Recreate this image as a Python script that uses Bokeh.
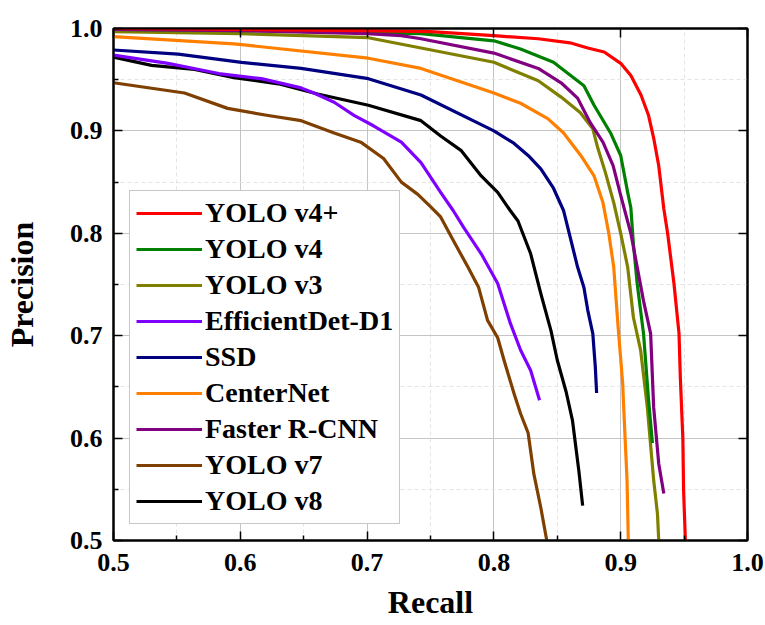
from bokeh.plotting import figure
from bokeh.models import (Legend, LegendItem, LinearAxis, FixedTicker,
                          PrintfTickFormatter, Range1d)
from bokeh.embed import file_html
from bokeh.resources import INLINE

# ---- data ----
names = ["YOLO v4+", "YOLO v4", "YOLO v3", "EfficientDet-D1", "SSD",
         "CenterNet", "Faster R-CNN", "YOLO v7", "YOLO v8"]
colors = ["#ff0000", "#008000", "#808000", "#8000ff", "#000080",
          "#ff8000", "#800080", "#7f3f00", "#000000"]

yolov4p_x = [0.5, 0.6, 0.7, 0.75, 0.8, 0.835, 0.86, 0.874, 0.887, 0.9, 0.908, 0.916,
             0.922, 0.926, 0.93, 0.934, 0.937, 0.942, 0.946, 0.947, 0.949, 0.9496, 0.951]
yolov4p_y = [1.0, 0.999, 0.998, 0.997, 0.993, 0.990, 0.986, 0.981, 0.977, 0.966, 0.954, 0.935,
             0.915, 0.893, 0.866, 0.824, 0.800, 0.751, 0.702, 0.66, 0.60, 0.549, 0.50]

yolov4_x = [0.5, 0.6, 0.7, 0.7425, 0.8, 0.821, 0.847, 0.871, 0.879, 0.892, 0.900, 0.9055,
            0.908, 0.910, 0.913, 0.918, 0.922, 0.925]
yolov4_y = [0.999, 0.998, 0.996, 0.995, 0.988, 0.980, 0.967, 0.944, 0.925, 0.898, 0.876, 0.840,
            0.825, 0.790, 0.751, 0.702, 0.637, 0.595]

yolov3_x = [0.5, 0.6, 0.701, 0.7425, 0.8, 0.835, 0.853, 0.868, 0.878, 0.882, 0.888, 0.8945,
            0.9, 0.9055, 0.91, 0.9157, 0.921, 0.926, 0.929, 0.930]
yolov3_y = [0.997, 0.995, 0.991, 0.981, 0.967, 0.949, 0.933, 0.918, 0.902, 0.883, 0.859, 0.830,
            0.800, 0.767, 0.718, 0.686, 0.630, 0.559, 0.526, 0.50]

effdet_x = [0.5, 0.543, 0.583, 0.6165, 0.648, 0.658, 0.674, 0.690, 0.705, 0.727, 0.7425,
            0.758, 0.768, 0.776, 0.790, 0.803, 0.813, 0.821, 0.829, 0.836]
effdet_y = [0.974, 0.966, 0.956, 0.951, 0.942, 0.937, 0.928, 0.915, 0.905, 0.889, 0.869,
            0.840, 0.822, 0.806, 0.780, 0.751, 0.712, 0.686, 0.666, 0.637]

ssd_x = [0.5, 0.551, 0.601, 0.648, 0.701, 0.7425, 0.8, 0.8157, 0.827, 0.837, 0.847, 0.855,
         0.866, 0.871, 0.874, 0.878, 0.880, 0.881]
ssd_y = [0.979, 0.975, 0.967, 0.961, 0.951, 0.935, 0.900, 0.888, 0.876, 0.863, 0.844, 0.822,
         0.767, 0.747, 0.725, 0.702, 0.669, 0.644]

centernet_x = [0.5, 0.595, 0.701, 0.7425, 0.8, 0.821, 0.8425, 0.855, 0.8685, 0.879, 0.886,
               0.8906, 0.8945, 0.898, 0.9016, 0.902, 0.905, 0.906]
centernet_y = [0.992, 0.985, 0.971, 0.961, 0.937, 0.927, 0.912, 0.898, 0.876, 0.856, 0.830,
               0.800, 0.767, 0.708, 0.653, 0.640, 0.559, 0.50]

frcnn_x = [0.5, 0.6, 0.7, 0.727, 0.7425, 0.8, 0.835, 0.853, 0.866, 0.876, 0.886, 0.894,
           0.900, 0.908, 0.913, 0.918, 0.9236, 0.926, 0.930, 0.934]
frcnn_y = [0.999, 0.998, 0.995, 0.993, 0.990, 0.976, 0.961, 0.947, 0.932, 0.908, 0.889, 0.866,
           0.837, 0.800, 0.767, 0.734, 0.702, 0.630, 0.575, 0.546]

yolov7_x = [0.5, 0.556, 0.59, 0.622, 0.648, 0.674, 0.695, 0.713, 0.727, 0.740, 0.750, 0.758,
            0.768, 0.7795, 0.788, 0.795, 0.803, 0.808, 0.816, 0.821, 0.827, 0.8315, 0.837, 0.8417]
yolov7_y = [0.947, 0.937, 0.922, 0.915, 0.910, 0.898, 0.889, 0.873, 0.850, 0.838, 0.826, 0.816,
            0.793, 0.767, 0.747, 0.715, 0.698, 0.676, 0.643, 0.624, 0.605, 0.565, 0.532, 0.50]

yolov8_x = [0.5, 0.530, 0.564, 0.595, 0.630, 0.661, 0.701, 0.7425, 0.758, 0.774, 0.790, 0.803,
            0.813, 0.819, 0.829, 0.837, 0.845, 0.850, 0.857, 0.862, 0.867, 0.870]
yolov8_y = [0.972, 0.964, 0.960, 0.952, 0.946, 0.936, 0.925, 0.910, 0.895, 0.881, 0.856, 0.840,
            0.822, 0.812, 0.780, 0.741, 0.705, 0.676, 0.645, 0.617, 0.568, 0.534]

series_x = [yolov4p_x, yolov4_x, yolov3_x, effdet_x, ssd_x, centernet_x, frcnn_x, yolov7_x, yolov8_x]
series_y = [yolov4p_y, yolov4_y, yolov3_y, effdet_y, ssd_y, centernet_y, frcnn_y, yolov7_y, yolov8_y]

major_ticks = [0.5, 0.6, 0.7, 0.8, 0.9, 1.0]
minor_ticks = [0.55, 0.65, 0.75, 0.85, 0.95]
x_title = "Recall"
y_title = "Precision"

FONT = "Liberation Serif"

p = figure(width=765, height=625,
           x_range=Range1d(0.5, 1.0), y_range=Range1d(0.5, 1.0),
           output_backend="svg", toolbar_location=None,
           min_border_left=112, min_border_right=18,
           min_border_top=28, min_border_bottom=85)
p.background_fill_color = "white"
p.border_fill_color = "white"
p.outline_line_color = "black"
p.outline_line_width = 2

# draw order: back to front
draw_order = [8, 7, 3, 4, 5, 2, 1, 6, 0]
renderers = {}
for i in draw_order:
    renderers[i] = p.line(series_x[i], series_y[i], line_color=colors[i], line_width=3.2,
                          line_join="round")

ticker = FixedTicker(ticks=major_ticks, minor_ticks=minor_ticks)
for ax in (p.xaxis[0], p.yaxis[0]):
    ax.ticker = ticker
    ax.formatter = PrintfTickFormatter(format="%.1f")
    ax.major_label_text_font = FONT
    ax.major_label_text_font_style = "bold"
    ax.major_label_text_font_size = "26px"
    ax.major_label_text_color = "black"
    ax.axis_label_text_font = FONT
    ax.axis_label_text_font_style = "bold"
    ax.axis_label_text_font_size = "32px"
    ax.axis_label_text_color = "black"
    ax.axis_line_width = 2
    ax.axis_line_color = "black"
    ax.major_tick_in = 9
    ax.major_tick_out = 0
    ax.minor_tick_in = 5
    ax.minor_tick_out = 0
    ax.major_tick_line_width = 1.5
    ax.minor_tick_line_width = 1.5

p.xaxis.axis_label = x_title
p.yaxis.axis_label = y_title
p.xaxis.major_label_standoff = 13
p.xaxis.axis_label_standoff = 10
p.yaxis.major_label_standoff = 11
p.yaxis.axis_label_standoff = 27

for loc in ("above", "right"):
    ax = LinearAxis(ticker=FixedTicker(ticks=major_ticks),
                    major_label_text_font_size="1px", major_label_text_alpha=0,
                    major_label_text_color=None, major_label_standoff=0,
                    axis_line_width=2, axis_line_color="black",
                    major_tick_in=9, major_tick_out=0,
                    minor_tick_in=0, minor_tick_out=0,
                    major_tick_line_width=1.5)
    p.add_layout(ax, loc)

for g in (p.xgrid[0], p.ygrid[0]):
    g.ticker = ticker
    g.grid_line_color = "#c4c4c4"
    g.grid_line_width = 1
    g.minor_grid_line_color = "#e4e4e4"
    g.minor_grid_line_dash = "4 3"
    g.minor_grid_line_width = 1

legend = Legend(items=[LegendItem(label=names[i], renderers=[renderers[i]]) for i in range(9)],
                location=(16, 16), margin=0, padding=6, spacing=4,
                glyph_width=66, glyph_height=32, label_height=32, label_standoff=3,
                label_width=188,
                label_text_font=FONT, label_text_font_style="bold",
                label_text_font_size="28px", label_text_color="black",
                border_line_color="#909090", border_line_width=1,
                background_fill_color="white", background_fill_alpha=1.0)
p.add_layout(legend, "center")

open("out.html", "w").write(file_html(p, INLINE))
